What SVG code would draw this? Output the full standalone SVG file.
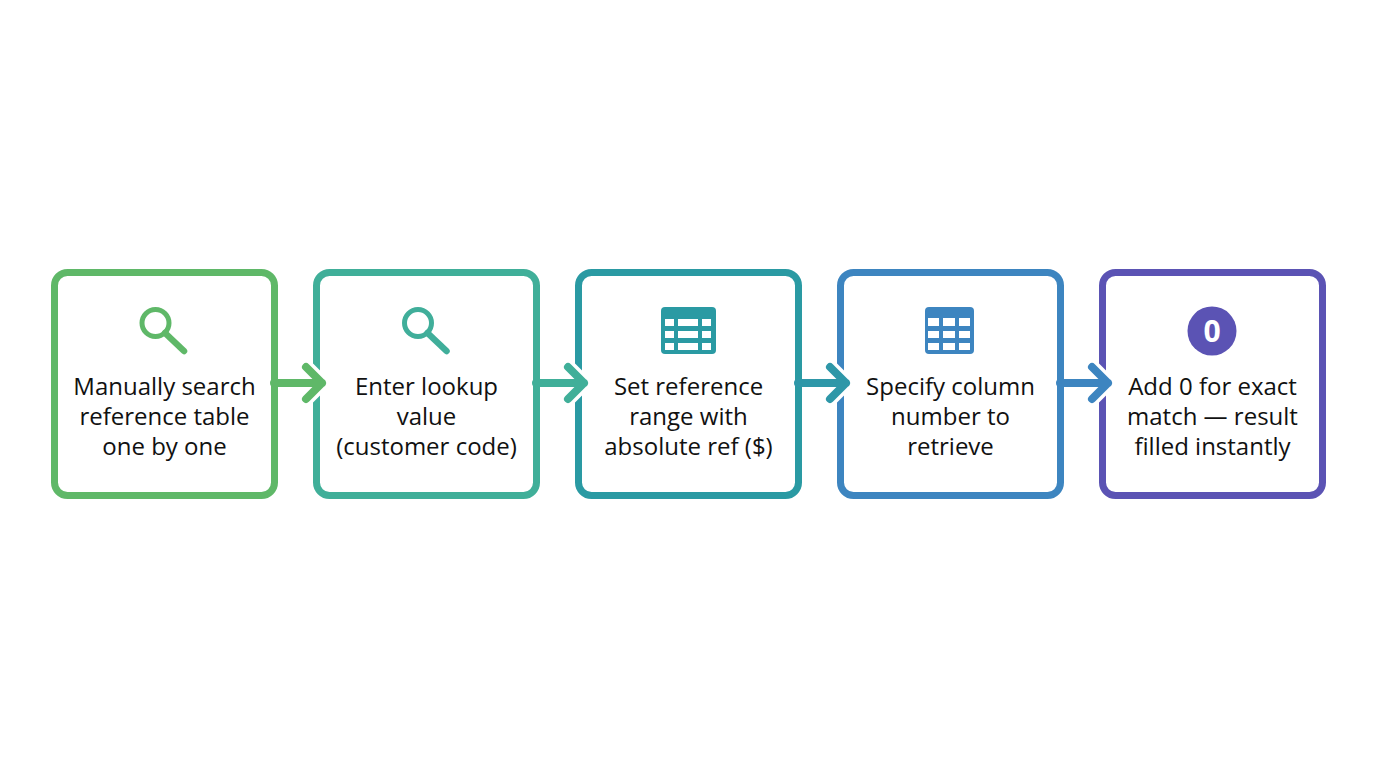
<svg xmlns="http://www.w3.org/2000/svg" width="1376" height="768" viewBox="0 0 1376 768">
<style>
.box{fill:#fff;stroke-width:7}
.lbl{font-family:"Open Sans","Noto Sans","Liberation Sans",sans-serif;font-size:24px;fill:#111;text-anchor:middle}
.halo{fill:none;stroke:#fff;stroke-width:15;stroke-linecap:round;stroke-linejoin:round}
.arr{fill:none;stroke-width:8;stroke-linecap:round;stroke-linejoin:round}
.mag{fill:none;stroke-width:5}
.hdl{stroke-width:6.5;stroke-linecap:round}
.cell{fill:#fff}
</style>
<rect width="1376" height="768" fill="#fff"/>
<g id="node1">
<rect class="box" x="54.5" y="272.5" width="220" height="223" rx="13" stroke="#5fb868"/>
<circle class="mag" cx="155.5" cy="323" r="13.5" stroke="#5fb868"/>
<line class="hdl" x1="165" y1="333" x2="184" y2="351" stroke="#5fb868"/>
<text class="lbl" x="164.5" y="395">Manually search</text>
<text class="lbl" x="164.5" y="425">reference table</text>
<text class="lbl" x="164.5" y="455">one by one</text>
</g>
<g id="node2">
<rect class="box" x="316.5" y="272.5" width="220" height="223" rx="13" stroke="#40af99"/>
<circle class="mag" cx="418" cy="323" r="13.5" stroke="#40ae9a"/>
<line class="hdl" x1="427.5" y1="333" x2="446.5" y2="351" stroke="#40ae9a"/>
<text class="lbl" x="426.5" y="395">Enter lookup</text>
<text class="lbl" x="426.5" y="425">value</text>
<text class="lbl" x="426.5" y="455">(customer code)</text>
</g>
<g id="node3">
<rect class="box" x="578.5" y="272.5" width="220" height="223" rx="13" stroke="#2a9aa3"/>
<rect x="661" y="307" width="55" height="47" rx="4" fill="#2a9aa3"/>
<g class="cell">
<rect x="665" y="319" width="9" height="7"/><rect x="678" y="319" width="20" height="7"/><rect x="702" y="319" width="9" height="7"/>
<rect x="665" y="331" width="9" height="7"/><rect x="678" y="331" width="20" height="7"/><rect x="702" y="331" width="9" height="7"/>
<rect x="665" y="343" width="9" height="7"/><rect x="678" y="343" width="20" height="7"/><rect x="702" y="343" width="9" height="7"/>
</g>
<text class="lbl" x="688.5" y="395">Set reference</text>
<text class="lbl" x="688.5" y="425">range with</text>
<text class="lbl" x="688.5" y="455">absolute ref ($)</text>
</g>
<g id="node4">
<rect class="box" x="840.5" y="272.5" width="220" height="223" rx="13" stroke="#3d85c0"/>
<rect x="925" y="307" width="49" height="47" rx="4" fill="#3d85c0"/>
<g class="cell">
<rect x="928" y="318" width="11" height="8"/><rect x="943" y="318" width="12" height="8"/><rect x="959" y="318" width="11" height="8"/>
<rect x="928" y="331" width="11" height="7"/><rect x="943" y="331" width="12" height="7"/><rect x="959" y="331" width="11" height="7"/>
<rect x="928" y="343" width="11" height="7"/><rect x="943" y="343" width="12" height="7"/><rect x="959" y="343" width="11" height="7"/>
</g>
<text class="lbl" x="950.5" y="395">Specify column</text>
<text class="lbl" x="950.5" y="425">number to</text>
<text class="lbl" x="950.5" y="455">retrieve</text>
</g>
<g id="node5">
<rect class="box" x="1102.5" y="272.5" width="220" height="223" rx="13" stroke="#5b53b4"/>
<circle cx="1212" cy="331" r="24.5" fill="#5b53b4"/>
<text x="1212" y="342" font-family="'Open Sans','Noto Sans',sans-serif" font-size="30" font-weight="bold" fill="#fff" text-anchor="middle">0</text>
<text class="lbl" x="1212.5" y="395">Add 0 for exact</text>
<text class="lbl" x="1212.5" y="425">match — result</text>
<text class="lbl" x="1212.5" y="455">filled instantly</text>
</g>
<g id="connectors">
<path class="halo" d="M306 367 L322 383 L306 399"/>
<path class="arr" stroke="#5fb868" d="M274 383 H322 M306 367 L322 383 L306 399"/>
<path class="halo" d="M568 367 L584 383 L568 399"/>
<path class="arr" stroke="#40af99" d="M536 383 H584 M568 367 L584 383 L568 399"/>
<path class="halo" d="M830 367 L846 383 L830 399"/>
<path class="arr" stroke="#2e97a8" d="M798 383 H846 M830 367 L846 383 L830 399"/>
<path class="halo" d="M1092 367 L1108 383 L1092 399"/>
<path class="arr" stroke="#3d85c0" d="M1060 383 H1108 M1092 367 L1108 383 L1092 399"/>
</g>
</svg>
